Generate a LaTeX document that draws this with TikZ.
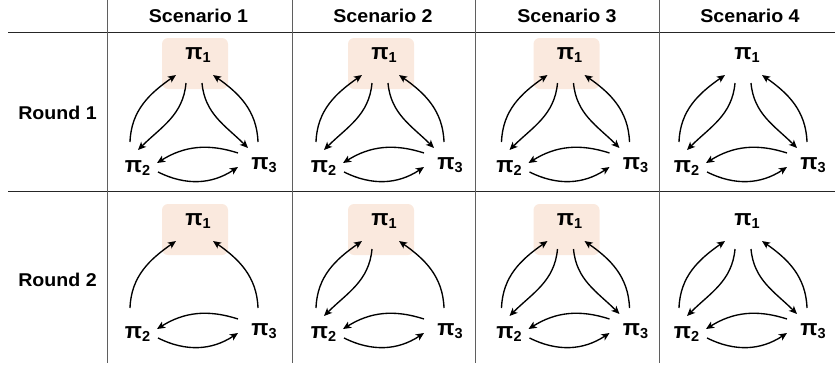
\documentclass[tikz,border=0pt]{standalone}
\usepackage{fontspec}
\setmainfont{Liberation Sans}
\newfontfamily\hdrfont[FakeStretch=1.06]{Liberation Sans}
\usetikzlibrary{arrows.meta,calc}
\definecolor{peach}{RGB}{250,233,222}
\definecolor{gridc}{RGB}{95,95,95}
\newcommand\pil[1]{{\fontsize{22.5}{22}\selectfont\bfseries π}\raisebox{-2.5pt}{\fontsize{14.5}{14}\selectfont\bfseries #1}}
\tikzset{
  x=1pt,y=1pt,
  pnode/.style={inner sep=0pt},
  pbox/.style={fill=peach, rounded corners=6pt, minimum width=66pt, minimum height=51pt, inner sep=0pt},
  arr/.style={-{Stealth[length=8pt,width=7pt,inset=2pt]}, line width=1.35pt},
  hdr/.style={font=\hdrfont\bfseries\fontsize{18.5}{19}\selectfont, inner sep=0pt},
  vline/.style={draw=gridc, line width=0.9pt},
  hline/.style={draw=black!85, line width=0.9pt},
}
\newcommand\mkcell[4]{%
  \coordinate (#1) at (#2,#3);
  \ifnum#4=1 \node[pbox] (#1b) at ($(#1)+(0,-8.5)$) {};\fi
  \node[pnode] (#1p1) at ($(#1)+(3,0)$) {\pil{1}};
  \node[pnode] (#1p2) at ($(#1)+(-57.5,-113)$) {\pil{2}};
  \node[pnode] (#1p3) at ($(#1)+(69,-110)$) {\pil{3}};
}
\newcommand\arA[1]{\draw[arr] ($(#1p2)+(-7.5,26)$) to[out=88,in=215] ($(#1p1)+(-22,-20)$);}
\newcommand\arB[1]{\draw[arr] ($(#1p1)+(-12,-28)$) to[out=-95,in=45] ($(#1p2)+(0.5,18)$);}
\newcommand\arC[1]{\draw[arr] ($(#1p1)+(4,-28)$) to[out=-85,in=135] ($(#1p3)+(-16,17)$);}
\newcommand\arD[1]{\draw[arr] ($(#1p3)+(-6,23)$) to[out=92,in=-35] ($(#1p1)+(15,-20)$);}
\newcommand\arE[1]{\draw[arr] ($(#1p3)+(-26,12)$) to[bend right=25] ($(#1p2)+(19.5,5)$);}
\newcommand\arF[1]{\draw[arr] ($(#1p2)+(20.5,-4)$) to[bend right=30] ($(#1p3)+(-26,-2)$);}
\newcommand\allarrows[1]{\arA{#1}\arB{#1}\arC{#1}\arD{#1}\arE{#1}\arF{#1}}
\begin{document}
\begin{tikzpicture}
\useasboundingbox (0,0) rectangle (835,-368);
% grid
\coordinate (h1a) at (8,-32); \coordinate (h1b) at (835,-32);
\coordinate (h2a) at (8,-191); \coordinate (h2b) at (835,-191);
\draw[hline] (h1a) -- (h1b);
\draw[hline] (h2a) -- (h2b);
\foreach \xx/\nm in {107/v1,292/v2,475/v3,659/v4}{
  \coordinate (\nm a) at (\xx,0); \coordinate (\nm b) at (\xx,-363);
  \draw[vline] (\nm a) -- (\nm b);
}
% headers
\node[hdr] (s1) at (198.5,-16) {Scenario 1};
\node[hdr] (s2) at (383,-16) {Scenario 2};
\node[hdr] (s3) at (567,-16) {Scenario 3};
\node[hdr] (s4) at (750,-16) {Scenario 4};
\node[hdr] (r1) at (57.5,-113) {Round 1};
\node[hdr] (r2) at (57.5,-280) {Round 2};
% round 1
\mkcell{aa}{195}{-55}{1}\allarrows{aa}
\mkcell{ab}{381}{-55}{1}\allarrows{ab}
\mkcell{ac}{566.5}{-55}{1}\allarrows{ac}
\mkcell{ad}{744}{-55}{0}\allarrows{ad}
% round 2
\mkcell{ba}{195}{-221}{1}\arA{ba}\arD{ba}\arE{ba}\arF{ba}
\mkcell{bb}{381}{-221}{1}\arA{bb}\arB{bb}\arD{bb}\arE{bb}\arF{bb}
\mkcell{bc}{566.5}{-221}{1}\allarrows{bc}
\mkcell{bd}{744}{-221}{0}\allarrows{bd}
\end{tikzpicture}
\end{document}
